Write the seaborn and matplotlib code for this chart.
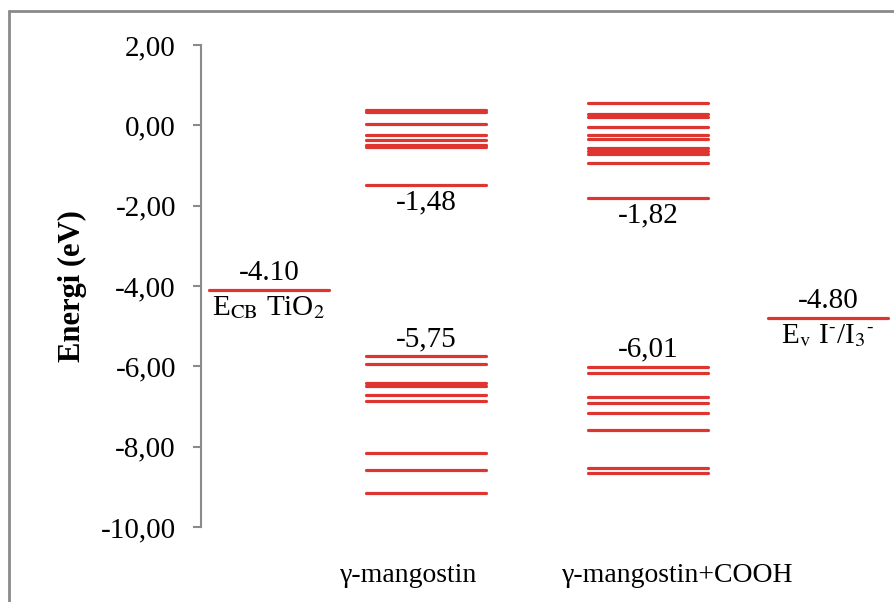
import matplotlib
matplotlib.use('Agg')
import numpy as np
import pandas as pd
import matplotlib.pyplot as plt
import seaborn as sns
from matplotlib.lines import Line2D

# energy levels (eV)
tio2_levels = [-4.10]
mang_levels = [0.39, 0.32, 0.03, -0.25, -0.36, -0.49, -0.55, -1.48,
               -5.75, -5.93, -6.42, -6.48, -6.72, -6.87, -8.17, -8.57, -9.15]
cooh_levels = [0.555, 0.29, 0.20, -0.04, -0.23, -0.34, -0.57, -0.64, -0.72,
               -0.93, -1.82, -6.01, -6.16, -6.76, -6.91, -7.17, -7.59, -8.53, -8.66]
redox_levels = [-4.80]

group_names = ['TiO2', 'γ-mangostin', 'γ-mangostin+COOH', 'I-/I3-']
category_labels = ['γ-mangostin', 'γ-mangostin+COOH']

# labelled levels: (group, value, text, above?)
level_labels = [
    ('TiO2', -4.10, '-4.10', True),
    ('TiO2', -4.10, r'E$_{\mathrm{CB}}$ TiO$_{2}$', False),
    ('γ-mangostin', -1.48, '-1,48', False),
    ('γ-mangostin', -5.75, '-5,75', True),
    ('γ-mangostin+COOH', -1.82, '-1,82', False),
    ('γ-mangostin+COOH', -6.01, '-6,01', True),
    ('I-/I3-', -4.80, '-4.80', True),
    ('I-/I3-', -4.80, r'E$_{\mathrm{v}}$ I$^{\text{-}}$/I$_{3}$$^{\text{-}}$', False),
]

yticks = [2, 0, -2, -4, -6, -8, -10]

# layout (x in axis units = pixels from the y axis)
centers = {'TiO2': 68, 'γ-mangostin': 225, 'γ-mangostin+COOH': 447, 'I-/I3-': 627}
label_pos = [208, 477]
half_w = 60
RED = '#DE3530'
GREY = '#8a8a8a'

sns.set_theme(style='white')
plt.rcParams['font.family'] = ['Liberation Serif', 'DejaVu Serif']
plt.rcParams['mathtext.fontset'] = 'stix'
plt.rcParams['text.color'] = 'black'
plt.rcParams['axes.labelcolor'] = 'black'
plt.rcParams['xtick.labelcolor'] = 'black'
plt.rcParams['ytick.labelcolor'] = 'black'

rows = []
uid = 0
for name, levels in zip(group_names, [tio2_levels, mang_levels, cooh_levels, redox_levels]):
    for e in levels:
        for dx in (-half_w, half_w):
            rows.append({'level': uid, 'group': name, 'x': centers[name] + dx, 'energy': e})
        uid += 1
df = pd.DataFrame(rows)

fig = plt.figure(figsize=(8.95, 6.02), dpi=100)
ax = fig.add_axes([201 / 895, 75 / 602, 694 / 895, 482 / 602])

sns.lineplot(data=df, x='x', y='energy', units='level', estimator=None,
             color=RED, linewidth=2.3, sort=False, legend=False, ax=ax)

for name, val, txt, above in level_labels:
    ax.annotate(txt, xy=(centers[name], val),
                xytext=(0, 3 if above else -3), textcoords='offset points',
                ha='center', va='bottom' if above else 'top', fontsize=21)

ax.set_xlim(0, 694)
ax.set_ylim(-10, 2)
ax.set_yticks(yticks)
ax.set_yticklabels([f'{v:.2f}'.replace('.', ',') for v in yticks], fontsize=21)
ax.set_xticks(label_pos)
ax.set_xticklabels(category_labels, fontsize=20)
ax.tick_params(axis='x', length=0, pad=26)
ax.tick_params(axis='y', length=6, width=1.5, color=GREY, pad=12, left=True)
ax.set_xlabel('')
ax.set_ylabel('Energi (eV)', fontsize=22, fontweight='bold', labelpad=10)

for s in ['top', 'right', 'bottom']:
    ax.spines[s].set_visible(False)
ax.spines['left'].set_color(GREY)
ax.spines['left'].set_linewidth(1.5)

# outer chart frame (left and top edges)
fl, ft = 9 / 895, 1 - 11 / 602
fig.add_artist(Line2D([fl, fl], [0, ft], color=GREY, lw=2, transform=fig.transFigure))
fig.add_artist(Line2D([fl, 1], [ft, ft], color=GREY, lw=2, transform=fig.transFigure))

fig.savefig('out.png', dpi=100)
